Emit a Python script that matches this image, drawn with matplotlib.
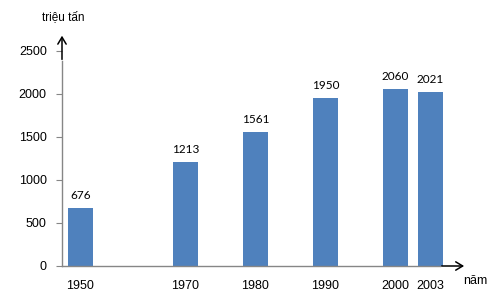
import matplotlib.pyplot as plt

# du lieu san luong (trieu tan)
years = ["1950", "1970", "1980", "1990", "2000", "2003"]
values = [676, 1213, 1561, 1950, 2060, 2021]
# vi tri cac cot tren truc hoanh (khoang cach khong deu)
slots = [0, 1.5, 2.5, 3.5, 4.5, 5.0]
yticks = [0, 500, 1000, 1500, 2000, 2500]

bar_color = "#4f81bd"
axis_grey = "#868686"

fig = plt.figure(figsize=(5.02, 2.99), dpi=100)
ax = fig.add_axes([62 / 502, 33 / 299, 408 / 502, 236 / 299])
ax.set_xlim(-0.264, 5.564)
ax.set_ylim(0, 2744)

ax.bar(slots, values, width=0.36, color=bar_color, zorder=2)

for x, v in zip(slots, values):
    ax.annotate(str(v), (x, v), xytext=(0, 5), textcoords="offset points",
                ha="center", va="bottom", fontsize=8.5, family="Lato")

for s in ax.spines.values():
    s.set_visible(False)

# truc tung va truc hoanh
ax.plot([-0.264, -0.264], [0, 2380], color=axis_grey, lw=1, clip_on=False, zorder=3)
ax.plot([-0.264, 5.136], [0, 0], color=axis_grey, lw=1, clip_on=False, zorder=3)
ax.annotate("", xy=(-0.264, 2710), xytext=(-0.264, 2370),
            arrowprops=dict(arrowstyle="->,head_length=0.5,head_width=0.3",
                            color="black", lw=1.1), annotation_clip=False)
ax.annotate("", xy=(5.52, 0), xytext=(5.12, 0),
            arrowprops=dict(arrowstyle="->,head_length=0.5,head_width=0.3",
                            color="black", lw=1.1), annotation_clip=False)

ax.set_yticks(yticks)
ax.set_yticklabels([str(t) for t in yticks], fontsize=9, family="Liberation Sans")
ax.tick_params(axis="y", length=4, color=axis_grey, pad=7)
ax.set_xticks(slots)
ax.set_xticklabels(years, fontsize=9, family="Liberation Sans")
ax.tick_params(axis="x", length=0, pad=10)

fig.text(63 / 502, 1 - 17 / 299, "triệu tấn", ha="center", va="center",
         fontsize=8.5, family="Liberation Sans")
fig.text(463 / 502, 1 - 281 / 299, "năm", ha="left", va="center",
         fontsize=9, family="Liberation Sans")

fig.savefig("out.png", dpi=100)
